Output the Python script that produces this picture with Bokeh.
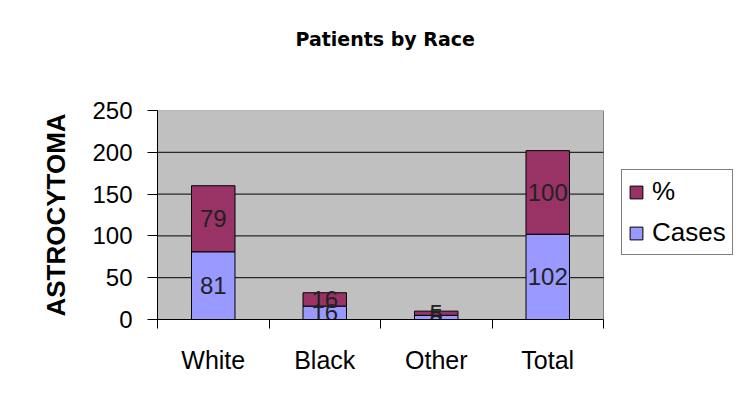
from bokeh.plotting import figure
from bokeh.models import (ColumnDataSource, Range1d, FixedTicker, Legend, LegendItem,
                          BoxAnnotation, Title)
from bokeh.core.properties import value
from bokeh.embed import file_html
from bokeh.resources import INLINE

# ---- data ----
categories = ["White", "Black", "Other", "Total"]
cases = [81, 16, 5, 102]
pct = [79, 16, 5, 100]
y_ticks = [0, 50, 100, 150, 200, 250]
title_text = "Patients by Race"
y_label = "ASTROCYTOMA"
series_names = ["Cases", "%"]
series_colors = ["#9999FF", "#993366"]

FONT = "Liberation Sans"

# ---- layout (pixels) ----
W, H = 750, 401
BORDER_L, BORDER_R, BORDER_T, BORDER_B = 157, 10, 110, 82
PLOT_AREA_W = 446            # grey plot area width; the frame extends right to hold the legend
FRAME_W = W - BORDER_L - BORDER_R

n = len(categories)
x = [i + 0.5 for i in range(n)]
x_end = n * FRAME_W / PLOT_AREA_W
pct_top = [c + q for c, q in zip(cases, pct)]
src = ColumnDataSource(dict(
    x=x,
    cases=cases,
    pct=pct,
    pct_top=pct_top,
    cmid=[c / 2 for c in cases],
    pmid=[c + q / 2 for c, q in zip(cases, pct)],
    clab=[str(c) for c in cases],
    plab=[str(q) for q in pct],
))
grid_vals = y_ticks[1:-1]
grid_src = ColumnDataSource(dict(y=grid_vals, x0=[0] * len(grid_vals), x1=[n] * len(grid_vals)))

p = figure(width=W, height=H, title=None,
           x_range=Range1d(0, x_end), y_range=Range1d(y_ticks[0], y_ticks[-1]),
           output_backend="svg", toolbar_location=None,
           min_border_left=BORDER_L, min_border_right=BORDER_R,
           min_border_top=BORDER_T, min_border_bottom=BORDER_B,
           background_fill_color="white", border_fill_color="white",
           outline_line_color=None)

# grey plot area
p.add_layout(BoxAnnotation(left=0, right=n, bottom=y_ticks[0], top=y_ticks[-1],
                           fill_color="#C0C0C0", fill_alpha=1,
                           line_color="#808080", line_alpha=1, line_width=1,
                           level="image"))

# gridlines confined to the plot area
p.segment(x0="x0", x1="x1", y0="y", y1="y", source=grid_src,
          line_color="black", line_width=1, level="underlay")

r_cases = p.vbar(x="x", bottom=0, top="cases", width=0.39, source=src,
                 fill_color=series_colors[0], line_color="black", line_width=1)
r_pct = p.vbar(x="x", bottom="cases", top="pct_top", width=0.39, source=src,
               fill_color=series_colors[1], line_color="black", line_width=1)

for ycol, tcol in (("cmid", "clab"), ("pmid", "plab")):
    p.text(x="x", y=ycol, text=tcol, source=src, text_align="center",
           text_baseline="middle", text_font=value(FONT),
           text_font_size="24px", text_color="#222222")

# title: a blank spacer sits between the frame and the real title
spacer = Title(text=" ", text_font_size="19px", standoff=33)
p.add_layout(spacer, "above")
main_title = Title(text=title_text, align="left", offset=138,
                   text_font="DejaVu Sans", text_font_size="19px",
                   text_font_style="bold", text_color="black", standoff=10)
p.add_layout(main_title, "above")

# x axis: labels at centres, ticks at category boundaries
xa = p.xaxis[0]
xa.bounds = (0, n)
xa.ticker = FixedTicker(ticks=x, minor_ticks=list(range(n + 1)))
xa.major_label_overrides = {xi: c for xi, c in zip(x, categories)}
xa.major_tick_out = 0
xa.major_tick_in = 0
xa.minor_tick_out = 9
xa.minor_tick_in = 0
xa.minor_tick_line_color = "black"
xa.axis_line_color = "black"
xa.major_label_text_font = FONT
xa.major_label_text_font_size = "25px"
xa.major_label_text_color = "black"
xa.major_label_standoff = 17

ya = p.yaxis[0]
ya.ticker = FixedTicker(ticks=y_ticks)
ya.major_tick_out = 10
ya.major_tick_in = 0
ya.minor_tick_line_color = None
ya.axis_line_color = "black"
ya.major_tick_line_color = "black"
ya.major_label_text_font = FONT
ya.major_label_text_font_size = "24px"
ya.major_label_text_color = "black"
ya.major_label_standoff = 15
ya.axis_label = y_label
ya.axis_label_text_font = FONT
ya.axis_label_text_font_size = "26px"
ya.axis_label_text_font_style = "bold"
ya.axis_label_text_color = "black"
ya.axis_label_standoff = 18

p.xgrid.visible = False
p.ygrid.visible = False

legend = Legend(items=[LegendItem(label=series_names[1], renderers=[r_pct]),
                       LegendItem(label=series_names[0], renderers=[r_cases])],
                location=(464, 64))
legend.border_line_color = "black"
legend.background_fill_color = "white"
legend.background_fill_alpha = 1
legend.padding = 6
legend.spacing = 10
legend.margin = 0
legend.glyph_width = 16
legend.glyph_height = 16
legend.label_standoff = 8
legend.label_text_font = FONT
legend.label_text_font_size = "26px"
legend.label_text_color = "black"
p.add_layout(legend)

open("out.html", "w").write(file_html(p, INLINE))
